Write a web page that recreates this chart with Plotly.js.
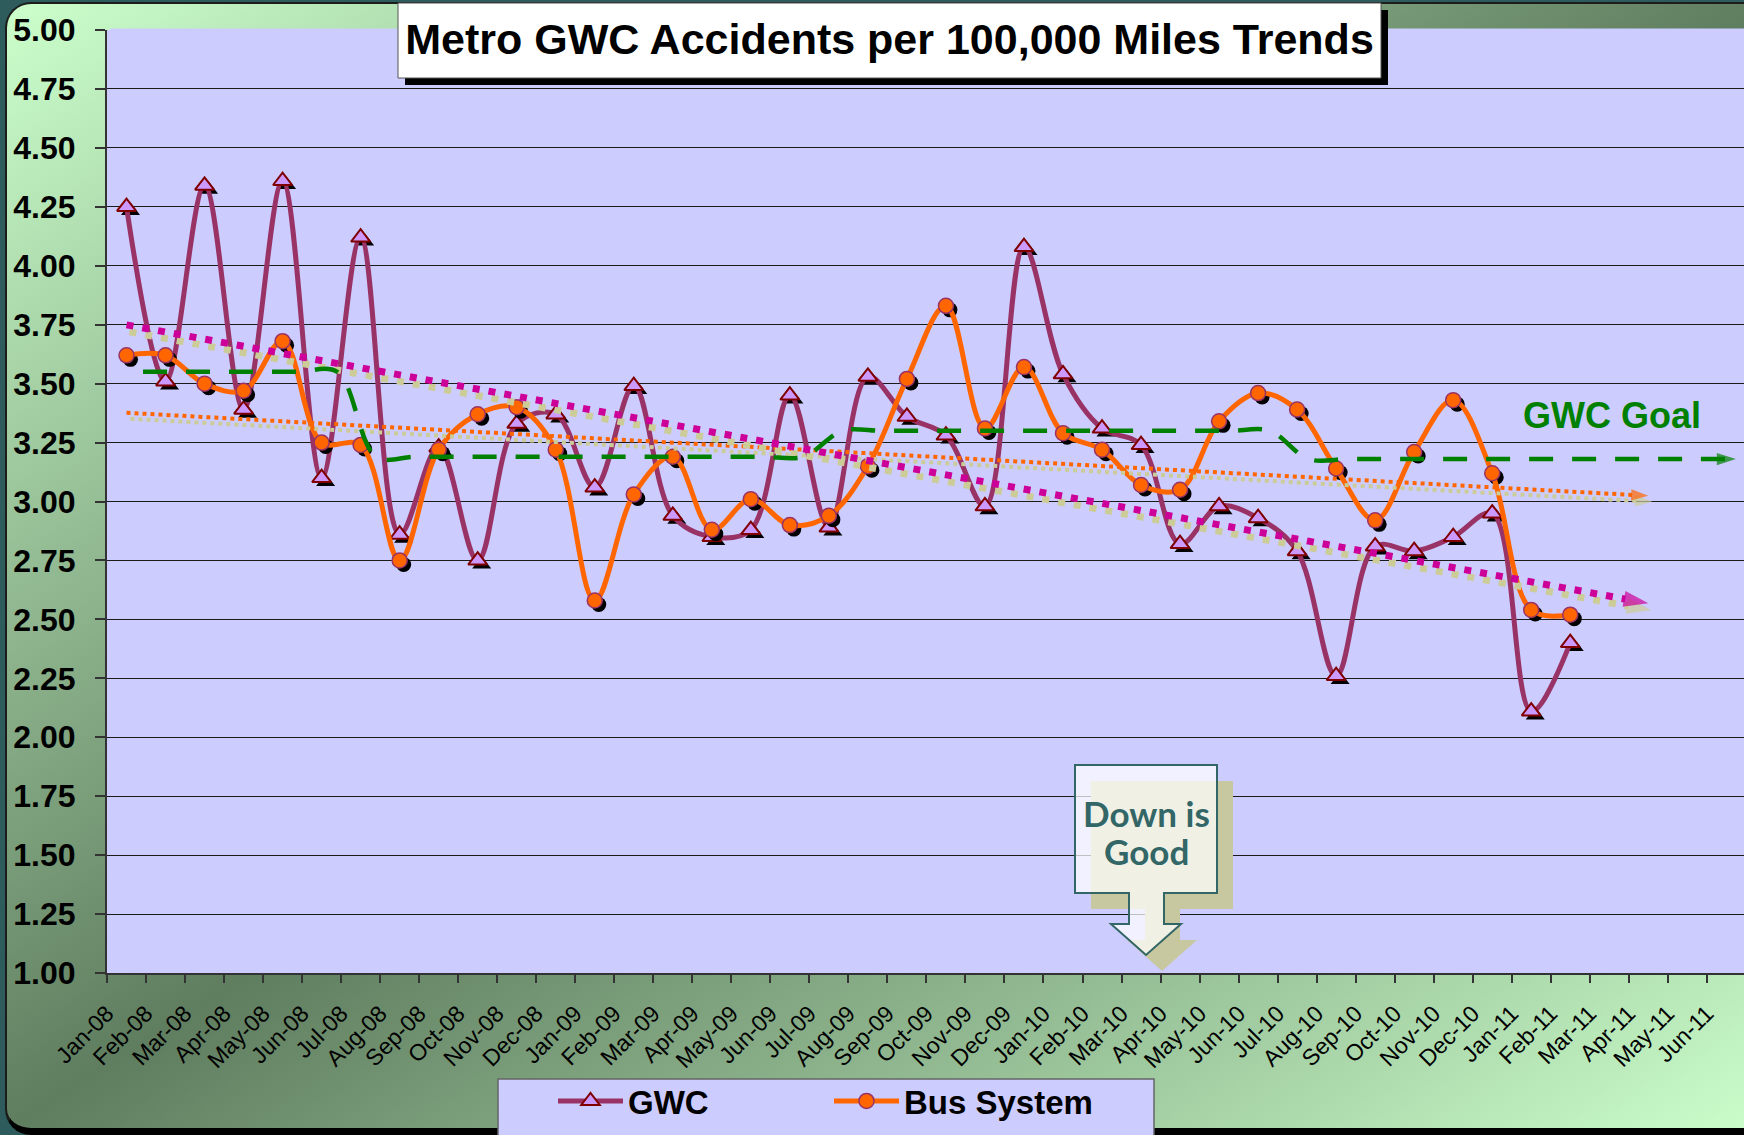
<!DOCTYPE html>
<html>
<head>
<meta charset="utf-8">
<script src="https://cdn.plot.ly/plotly-3.0.1.min.js"></script>
<style>
html,body{margin:0;padding:0;background:#2e5c5c;width:1744px;height:1135px;overflow:hidden;}
#frame{position:absolute;left:5px;top:2px;width:1770px;height:1124px;border:2px solid #1c1c1c;border-bottom:7px solid #000;border-radius:26px;
  background:linear-gradient(to bottom right,#ccffcc 0%,#5f7d5f 50%,#ccffcc 100%);}
#chart{position:absolute;left:0;top:0;width:1744px;height:1135px;}
</style>
</head>
<body>
<div id="frame"></div>
<div id="chart"></div>
<script>
// ---------------- data ----------------
const months = ['Jan-08','Feb-08','Mar-08','Apr-08','May-08','Jun-08','Jul-08','Aug-08','Sep-08','Oct-08','Nov-08','Dec-08',
  'Jan-09','Feb-09','Mar-09','Apr-09','May-09','Jun-09','Jul-09','Aug-09','Sep-09','Oct-09','Nov-09','Dec-09',
  'Jan-10','Feb-10','Mar-10','Apr-10','May-10','Jun-10','Jul-10','Aug-10','Sep-10','Oct-10','Nov-10','Dec-10',
  'Jan-11','Feb-11','Mar-11','Apr-11','May-11','Jun-11'];

const gwc = [4.25,3.51,4.34,3.39,4.36,3.10,4.12,2.86,3.23,2.75,3.33,3.37,
  3.06,3.49,2.94,2.85,2.88,3.45,2.89,3.53,3.36,3.28,2.98,4.08,
  3.54,3.31,3.24,2.82,2.98,2.93,2.79,2.26,2.81,2.79,2.85,2.95,
  2.11,2.40];

const bus = [3.62,3.62,3.50,3.47,3.68,3.25,3.24,2.75,3.22,3.37,3.40,3.22,
  2.58,3.03,3.19,2.88,3.01,2.90,2.94,3.15,3.52,3.83,3.31,3.57,
  3.29,3.22,3.07,3.05,3.34,3.46,3.39,3.14,2.92,3.21,3.43,3.12,
  2.54,2.52];

const goal = [3.55,3.55,3.55,3.55,3.55,3.55,
  3.19,3.19,3.19,3.19,3.19,3.19,3.19,3.19,3.19,3.19,3.19,3.19,
  3.30,3.30,3.30,3.30,3.30,3.30,3.30,3.30,3.30,3.30,3.30,3.30,
  3.18,3.18,3.18,3.18,3.18,3.18,3.18,3.18,3.18,3.18,3.18,3.18];

const forecastPeriods = 2;

// ---------------- geometry / style ----------------
const W = 1744, H = 1135;
const L = 107, T = 30, PW = 1637, PH = 943;
const CAT = 39.02;                 // px per month
const XMAX = PW / CAT;
const PXX = CAT, PXY = PH / 4;     // px per unit
const FONT = 'Liberation Sans, Arial, sans-serif';

const X = px => (px - L) / PW;
const Y = py => (T + PH - py) / PH;

const idx = months.map((m, i) => i);
const cx = arr => arr.map((v, i) => i + 0.5);

function linfit(ys) {
  const n = ys.length; let sx = 0, sy = 0, sxx = 0, sxy = 0;
  ys.forEach((y, i) => { sx += i; sy += y; sxx += i * i; sxy += i * y; });
  const b = (n * sxy - sx * sy) / (n * sxx - sx * sx);
  const a = (sy - b * sx) / n;
  return [a, b];
}
function trend(ys) {
  const [a, b] = linfit(ys);
  const i1 = ys.length - 1 + forecastPeriods;
  return { x: [0.5, i1 + 0.5], y: [a, a + b * i1] };
}
const gT = trend(gwc), bT = trend(bus);

const sh = (arr, dpx) => arr.map(v => v + dpx / PXX);
const sv = (arr, dpx) => arr.map(v => v - dpx / PXY);

const traces = [];
// GWC
traces.push({x: sh(cx(gwc), 4), y: sv(gwc, 4), mode: 'markers', showlegend: false, hoverinfo: 'skip',
  marker: {symbol: 'triangle-up', size: 16.5, color: '#000', line: {width: 0}}});
traces.push({x: cx(gwc), y: gwc, name: 'GWC', mode: 'lines+markers',
  line: {color: '#993366', width: 5, shape: 'spline', smoothing: 1},
  marker: {symbol: 'triangle-up', size: 16.5, color: '#cc99ff', line: {color: '#800000', width: 2}}});
// Bus
traces.push({x: sh(cx(bus), 4), y: sv(bus, 4), mode: 'markers', showlegend: false, hoverinfo: 'skip',
  marker: {symbol: 'circle', size: 15, color: '#000', line: {width: 0}}});
traces.push({x: cx(bus), y: bus, name: 'Bus System', mode: 'lines+markers',
  line: {color: '#ff6600', width: 5, shape: 'spline', smoothing: 1},
  marker: {symbol: 'circle', size: 15, color: '#ff6600', line: {color: '#993366', width: 1.5}}});

// trends
function trendTrace(t, color, width, dash, asize, dx, dy) {
  return {x: sh(t.x, dx), y: sv(t.y, dy), mode: 'lines+markers', showlegend: false, hoverinfo: 'skip',
    line: {color: color, width: width, dash: dash},
    marker: {symbol: 'arrow', angleref: 'previous', size: [0, asize], color: color, line: {width: 0}}};
}
traces.push(trendTrace(bT, '#cccc99', 4, '4px,4px', 18, 4, 6));
traces.push(trendTrace(bT, '#ff6600', 4, '4px,4px', 18, 0, 0));
traces.push(trendTrace(gT, '#cccc99', 7, '7px,9px', 26, 3, 7));
traces.push(trendTrace(gT, '#cc0099', 7, '7px,9px', 26, 0, 0));

// goal (secondary category axis)
traces.push({x: goal.map((v, j) => j), y: goal, xaxis: 'x2', mode: 'lines+markers', showlegend: false, hoverinfo: 'skip',
  line: {color: '#008000', width: 4.5, dash: '24px,19px', shape: 'spline', smoothing: 1},
  marker: {symbol: 'arrow', angleref: 'previous', size: goal.map((v, j) => j === goal.length - 1 ? 20 : 0), color: '#008000', line: {width: 0}}});

const G0 = 143, GS = 38.85;  // goal axis placement

const callout = [[1075,765],[1217,765],[1217,893],[1164,893],[1164,924],[1181,924],[1146,955],[1111,924],[1129,924],[1129,893],[1075,893]];
const pathOf = (pts, d) => 'M' + pts.map(p => X(p[0] + d) + ',' + Y(p[1] + d)).join('L') + 'Z';

const layout = {
  width: W, height: H, autosize: false,
  margin: {l: L, r: 0, t: T, b: H - T - PH, pad: 0, autoexpand: false},
  paper_bgcolor: 'rgba(0,0,0,0)', plot_bgcolor: '#ccccff',
  font: {family: FONT, color: '#000'},
  title: {text: 'Metro GWC Accidents per 100,000 Miles Trends', xref: 'container', yref: 'container',
    x: 889.5 / W, y: 1 - 39 / H, xanchor: 'center', yanchor: 'middle',
    font: {family: FONT, size: 43, weight: 'bold', color: '#000'}},
  xaxis: {range: [0, XMAX], tickmode: 'array', tickvals: idx, ticktext: months, tickangle: -45,
    ticks: 'outside', ticklen: 8, tickwidth: 1.5, tickcolor: '#333', showline: true, linecolor: '#333', linewidth: 2,
    showgrid: false, zeroline: false, ticklabelstandoff: 8,
    tickfont: {family: FONT, size: 23, color: '#000'}},
  xaxis2: {overlaying: 'x', range: [(L - G0) / GS, (L + PW - G0) / GS], visible: false},
  yaxis: {range: [1, 5], tick0: 1, dtick: 0.25, tickformat: '.2f', ticks: 'outside', ticklen: 10, tickwidth: 1.5,
    tickcolor: '#333', showline: true, linecolor: '#333', linewidth: 2, gridcolor: '#1a1a1a', gridwidth: 1,
    zeroline: false, ticklabelstandoff: 13,
    tickfont: {family: FONT, size: 32, weight: 'bold', color: '#000'}},
  legend: {orientation: 'h', xref: 'container', yref: 'container', x: 553 / W, y: 1 - 1073 / H,
    xanchor: 'left', yanchor: 'top', bgcolor: 'rgba(0,0,0,0)', borderwidth: 0,
    font: {family: FONT, size: 33, weight: 'bold', color: '#000'}, itemwidth: 65, entrywidth: 196, entrywidthmode: 'pixels',
    traceorder: 'normal'},
  shapes: [
    {type: 'line', xref: 'paper', yref: 'paper', x0: 0.002, x1: 1, y0: 1, y1: 1, layer: 'between', line: {color: '#ccccff', width: 3}},
    {type: 'rect', xref: 'paper', yref: 'paper', x0: X(498), x1: X(1154), y0: Y(1079), y1: Y(1140), fillcolor: '#ccccff', line: {color: '#666', width: 1.5}, layer: 'above'},
    {type: 'rect', xref: 'paper', yref: 'paper', x0: X(405), x1: X(1388), y0: Y(10), y1: Y(85), fillcolor: '#000', line: {width: 0}, layer: 'above'},
    {type: 'rect', xref: 'paper', yref: 'paper', x0: X(398), x1: X(1381), y0: Y(3), y1: Y(78), fillcolor: '#fff', line: {color: '#555', width: 1}, layer: 'above'},
    {type: 'path', xref: 'paper', yref: 'paper', path: pathOf(callout, 16), fillcolor: '#c8c8a0', line: {width: 0}, layer: 'above'},
    {type: 'path', xref: 'paper', yref: 'paper', path: pathOf(callout, 0), fillcolor: 'rgba(255,255,255,0.72)', line: {color: '#336666', width: 2}, layer: 'above'}
  ],
  annotations: [
    {text: 'GWC Goal', xref: 'paper', yref: 'paper', x: X(1521), y: Y(416), xanchor: 'left', yanchor: 'middle', showarrow: false,
      font: {family: FONT, size: 36, weight: 'bold', color: '#008000'}},
    {text: 'Down is', xref: 'paper', yref: 'paper', x: X(1146), y: Y(813), xanchor: 'center', yanchor: 'middle', showarrow: false,
      font: {family: 'Lato, Open Sans, sans-serif', size: 35, weight: 'bold', color: '#336666'}},
    {text: 'Good', xref: 'paper', yref: 'paper', x: X(1146), y: Y(851), xanchor: 'center', yanchor: 'middle', showarrow: false,
      font: {family: 'Lato, Open Sans, sans-serif', size: 35, weight: 'bold', color: '#336666'}}
  ],
  showlegend: true
};

Plotly.newPlot('chart', traces, layout, {displayModeBar: false, responsive: false});
</script>
</body>
</html>
